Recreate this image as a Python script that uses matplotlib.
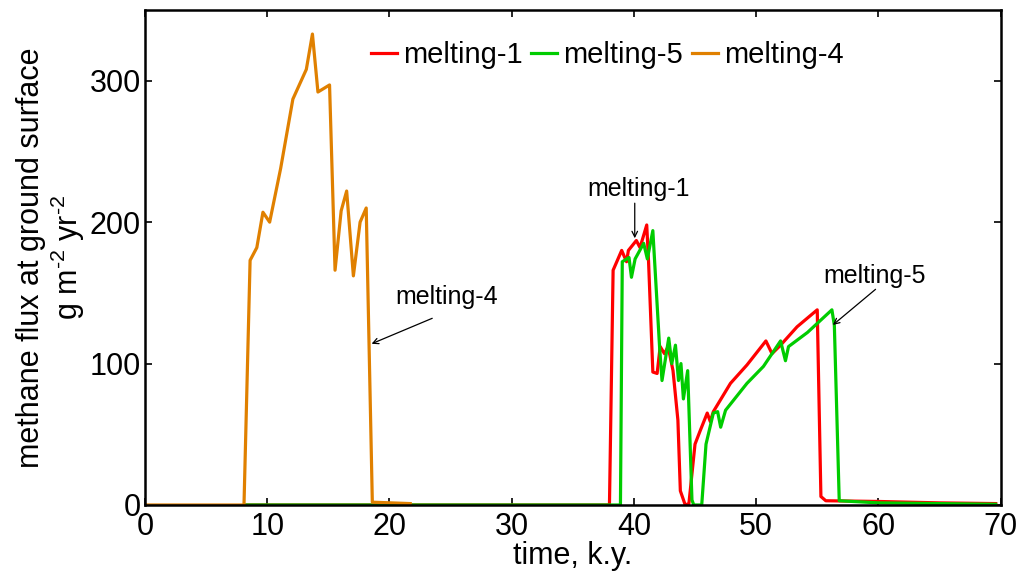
import matplotlib
matplotlib.use("Agg")
import matplotlib.pyplot as plt

# melting-4 (orange)
t4 = [0, 8.1, 8.6, 9.15, 9.65, 10.2, 11.1, 12.1, 13.2, 13.7, 14.15, 15.1, 15.55,
      16.05, 16.5, 17.05, 17.6, 18.1, 18.6, 21.7]
v4 = [0, 0, 173, 182, 207, 200, 238, 287, 308, 333, 292, 297, 166,
      208, 222, 162, 200, 210, 2, 1]

# melting-1 (red)
t1 = [8.2, 38.0, 38.3, 39.0, 39.4, 39.55, 40.2, 40.5, 41.05, 41.2, 41.55, 41.9,
      42.15, 42.5, 42.8, 43.2, 43.6, 43.8, 44.2, 44.5, 45.0, 45.4, 46.0, 46.25,
      46.5, 47.9, 49.25, 50.8, 51.3, 52.0, 53.35, 55.0, 55.3, 55.7, 60, 65, 69.6]
v1 = [0, 0, 166, 180, 172, 180, 187, 182, 198, 172, 94, 93,
      112, 107, 112, 95, 60, 10, 0, 1, 43, 52, 65, 59,
      66, 86, 99, 116, 107, 113, 126, 138, 6, 3, 2.5, 1.5, 1]

# melting-5 (green)
t5 = [8.2, 38.9, 39.05, 39.6, 39.8, 40.1, 40.8, 41.1, 41.55, 42.1, 42.3, 42.85,
      43.1, 43.4, 43.65, 43.85, 44.05, 44.4, 44.75, 44.9, 45.55, 45.9, 46.5,
      46.85, 47.1, 47.5, 49.25, 50.6, 52.0, 52.4, 52.65, 54.2, 56.2, 56.4, 56.8,
      60, 69.6]
v5 = [0, 0, 172, 175, 161, 174, 185, 174, 194, 112, 88, 118,
      100, 113, 88, 100, 75, 95, 3.5, 0, 0, 43, 65,
      66, 55, 67, 86, 98, 116, 102, 112, 122, 138, 127, 3,
      1.5, 0.5]

red = "#ff0000"
green = "#00cc00"
orange = "#e08000"

plt.rcParams["font.family"] = ["Liberation Sans", "DejaVu Sans"]
plt.rcParams["mathtext.fontset"] = "custom"
plt.rcParams["mathtext.rm"] = "Liberation Sans"

fig = plt.figure(figsize=(10.21, 5.71), dpi=100)
ax = fig.add_axes([0.142, 0.1156, 0.838, 0.8669])

ax.plot(t1, v1, color=red, lw=2.3, label="melting-1")
ax.plot(t5, v5, color=green, lw=2.3, label="melting-5")
ax.plot(t4, v4, color=orange, lw=2.3, label="melting-4")

ax.set_xlim(0, 70)
ax.set_ylim(0, 350)
ax.set_xticks(range(0, 71, 10))
ax.set_yticks([0, 100, 200, 300])

narrow = ["Liberation Sans Narrow", "Liberation Sans"]
ax.tick_params(direction="in", length=5, width=1.2, top=True, right=True)
ax.tick_params(axis="x", pad=5)
ax.tick_params(axis="y", pad=3)
for lab in ax.get_xticklabels() + ax.get_yticklabels():
    lab.set_fontfamily(narrow)
    lab.set_fontsize(22)
for s in ax.spines.values():
    s.set_linewidth(1.8)

ax.set_xlabel("time, k.y.", fontsize=22, family=narrow, labelpad=-1)
ax.set_ylabel("methane flux at ground surface\ng m$^{\\text{-2}}$ yr$^{\\text{-2}}$",
              fontsize=22, linespacing=1.1, labelpad=2)

ax.legend(loc="upper center", bbox_to_anchor=(0.54, 0.99), ncol=3, frameon=False,
          fontsize=21, handlelength=0.9, handletextpad=0.2, columnspacing=0.3)

arrow = dict(arrowstyle="->", color="black", lw=0.9, shrinkA=0, shrinkB=0)
ax.annotate("", xy=(40.07, 188.6), xytext=(40.07, 213.4), arrowprops=arrow)
ax.text(40.4, 223.5, "melting-1", fontsize=18, ha="center", va="center")
ax.annotate("", xy=(18.54, 114), xytext=(23.5, 132), arrowprops=arrow)
ax.text(24.7, 147, "melting-4", fontsize=18, ha="center", va="center")
ax.annotate("", xy=(56.28, 127.3), xytext=(59.77, 152.5), arrowprops=arrow)
ax.text(59.7, 162, "melting-5", fontsize=18, ha="center", va="center")

fig.savefig("out.png", dpi=100)
